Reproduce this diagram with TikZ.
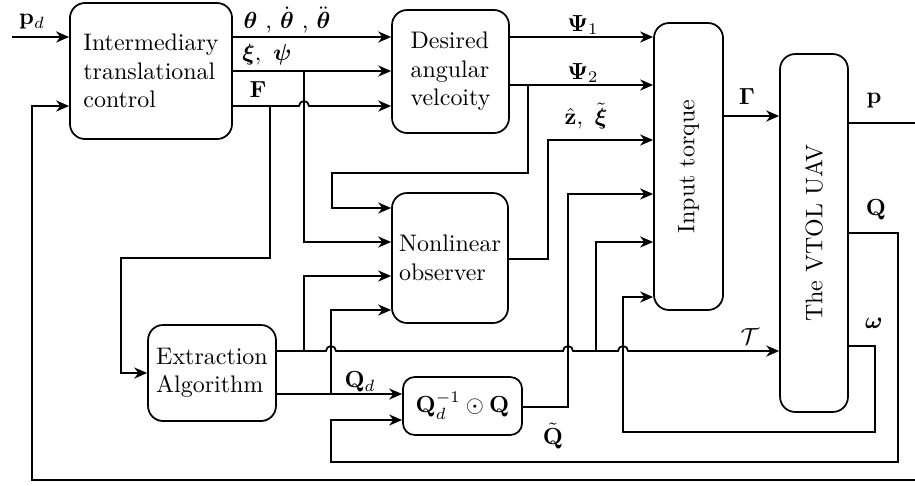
\documentclass[tikz,border=0pt]{standalone}
\usepackage{amsmath,amssymb}
\usetikzlibrary{arrows.meta}
\begin{document}
\begin{tikzpicture}[x=0.43pt,y=-0.43pt,
  blk/.style={draw, rounded corners=6.5pt, line width=0.75pt, align=left, inner sep=0pt,
    font=\fontsize{10.3}{12.3}\selectfont},
  wire/.style={line width=0.75pt},
  arr/.style={wire, -{Stealth[length=5.6pt,width=4.8pt]}},
  lbl/.style={inner sep=0pt, font=\fontsize{10.3}{12.3}\selectfont}]
\useasboundingbox (0,0) rectangle (915,485);
\clip (0,0) rectangle (915,485);

% blocks
\node[blk, minimum width=69.7pt, minimum height=58.5pt] (ITC) at (151,71)
  {Intermediary\\translational\\control};
\node[blk, minimum width=50.3pt, minimum height=52.9pt] (DAV) at (450.5,71.5)
  {Desired\\angular\\velcoity};
\node[blk, minimum width=29.7pt, minimum height=123.4pt] (IT) at (688.5,166.5) {};
\node[lbl, rotate=90] at (IT.center) {Input torque};
\node[blk, minimum width=29.2pt, minimum height=153.9pt] (VT) at (814,233) {};
\node[lbl, rotate=90] at (VT.center) {The VTOL UAV};
\node[blk, minimum width=49.9pt, minimum height=55.9pt] (NLO) at (450,258)
  {Nonlinear\\observer};
\node[blk, minimum width=55pt, minimum height=41.3pt] (EA) at (212,373)
  {Extraction\\Algorithm};
\node[blk, rounded corners=5pt, minimum width=51.2pt, minimum height=24.9pt] (QB) at (462.5,406)
  {$\mathbf{Q}_d^{-1}\odot\mathbf{Q}$};

% reference input
\coordinate (pin) at (12,37);
\draw[arr] (pin) -- (ITC.west |- 0,37);

% translational control outputs
\draw[arr] (ITC.east |- 0,37) -- (DAV.west |- 0,37);
\draw[arr] (ITC.east |- 0,71) -- (DAV.west |- 0,71);
\coordinate (jxi) at (304,71);
\draw[arr] (jxi) -- (304,242) -- (NLO.west |- 0,242);
\draw[arr] (ITC.east |- 0,106) -- (299,106) arc[start angle=180,end angle=0,radius=2.15pt]
  -- (DAV.west |- 0,106);
\coordinate (jF) at (270,106);
\draw[arr] (jF) -- (270,258) -- (121,258) -- (121,373) -- (EA.west |- 0,373);

% desired angular velocity outputs
\draw[arr] (DAV.east |- 0,37) -- (IT.west |- 0,37);
\draw[arr] (DAV.east |- 0,85) -- (IT.west |- 0,85);
\coordinate (jpsi) at (528,85);
\draw[arr] (jpsi) -- (528,173) -- (332,173) -- (332,208) -- (NLO.west |- 0,208);

% observer output
\draw[arr] (NLO.east |- 0,259) -- (548,259) -- (548,140) -- (IT.west |- 0,140);

% extraction outputs
\draw[arr] (EA.east |- 0,351) -- (326,351) arc[start angle=180,end angle=0,radius=2.15pt]
  -- (563,351) arc[start angle=180,end angle=0,radius=2.15pt]
  -- (618,351) arc[start angle=180,end angle=0,radius=2.15pt]
  -- (VT.west |- 0,351);
\coordinate (jT1) at (304,351);
\draw[arr] (jT1) -- (304,276) -- (NLO.west |- 0,276);
\coordinate (jT2) at (596,351);
\draw[arr] (jT2) -- (596,242) -- (IT.west |- 0,242);
\draw[arr] (EA.east |- 0,394) -- (QB.west |- 0,394);
\coordinate (jQd) at (331,394);
\draw[arr] (jQd) -- (331,310) -- (NLO.west |- 0,310);

% attitude error
\draw[arr] (QB.east |- 0,407) -- (568,407) -- (568,194) -- (IT.west |- 0,194);

% torque to vehicle
\draw[arr] (IT.east |- 0,116) -- (VT.west |- 0,116);

% vehicle outputs and feedback
\draw[arr] (VT.east |- 0,123) -- (935,123) -- (935,480) -- (32,480) -- (32,106) -- (ITC.west |- 0,106);
\draw[arr] (VT.east |- 0,233) -- (898,233) -- (898,462) -- (331,462) -- (331,420) -- (QB.west |- 0,420);
\draw[arr] (VT.east |- 0,346) -- (875,346) -- (875,432) -- (623,432) -- (623,297) -- (IT.west |- 0,297);

% signal labels
\node[lbl] (lpd) at (32,22) {$\mathbf{p}_d$};
\node[lbl] (lth) at (287,20) {$\boldsymbol{\theta}$ , $\dot{\boldsymbol{\theta}}$ , $\ddot{\boldsymbol{\theta}}$};
\node[lbl] (lxi) at (267,55) {$\boldsymbol{\xi},~\boldsymbol{\psi}$};
\node[lbl] (lF) at (258,90) {$\mathbf{F}$};
\node[lbl] (lP1) at (583,25) {$\mathbf{\Psi}_1$};
\node[lbl] (lP2) at (583,73) {$\mathbf{\Psi}_2$};
\node[lbl] (lz) at (586,116) {$\hat{\mathbf{z}},~\tilde{\boldsymbol{\xi}}$};
\node[lbl] (lG) at (747,97) {$\mathbf{\Gamma}$};
\node[lbl] (lp) at (874,101) {$\mathbf{p}$};
\node[lbl] (lQ) at (876,210) {$\mathbf{Q}$};
\node[lbl] (lw) at (874,323) {$\boldsymbol{\omega}$};
\node[lbl] (lT) at (750,337) {$\mathcal{T}$};
\node[lbl] (lQd) at (360,382) {$\mathbf{Q}_d$};
\node[lbl] (lQt) at (553,436) {$\tilde{\mathbf{Q}}$};
\end{tikzpicture}
\end{document}
